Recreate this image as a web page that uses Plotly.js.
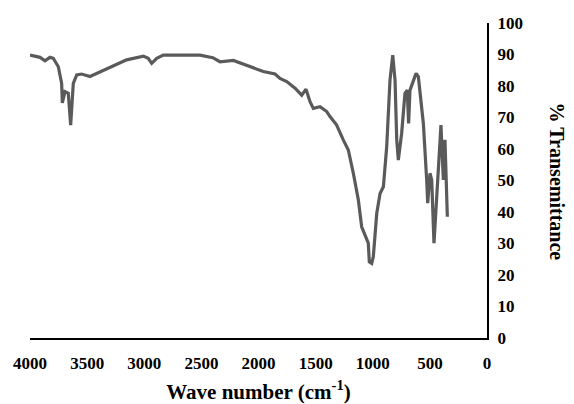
<!DOCTYPE html>
<html>
<head>
<meta charset="utf-8">
<script src="https://cdn.plot.ly/plotly-3.0.1.min.js"></script>
<style>
html,body{margin:0;padding:0;background:#fff;}
#chart{width:574px;height:404px;}
</style>
</head>
<body>
<div id="chart"></div>
<script>
// Wavenumber (cm-1) and % transmittance
const waveNumber = [4000, 3912, 3869, 3825, 3796, 3752, 3723, 3717, 3694, 3665, 3644, 3621, 3591, 3548, 3475, 3416, 3300, 3154, 3008, 2965, 2935, 2891, 2833, 2700, 2512, 2400, 2337, 2220, 2074, 1958, 1855, 1812, 1753, 1680, 1622, 1584, 1549, 1520, 1462, 1403, 1374, 1316, 1258, 1214, 1170, 1126, 1097, 1068, 1039, 1030, 1009, 995, 965, 936, 907, 878, 849, 825, 805, 790, 776, 747, 718, 698, 686, 674, 621, 601, 557, 528, 519, 499, 484, 464, 440, 403, 382, 368, 347];
const transmittance = [89.8, 89.1, 88.0, 89.1, 88.8, 86.1, 80.8, 74.6, 78.2, 77.7, 67.6, 80.8, 83.5, 83.8, 83.0, 84.0, 86.1, 88.3, 89.5, 88.8, 87.2, 88.8, 89.8, 89.9, 89.8, 89.0, 87.7, 88.1, 86.1, 84.6, 83.8, 82.4, 81.4, 79.3, 77.1, 79.0, 75.0, 72.9, 73.4, 71.9, 70.3, 67.6, 62.9, 59.7, 52.3, 43.8, 35.3, 32.7, 30.1, 24.2, 23.7, 25.8, 39.6, 45.9, 48.0, 60.7, 81.9, 89.8, 81.9, 62.9, 56.5, 65.0, 77.7, 78.7, 68.1, 78.7, 84.0, 83.0, 68.1, 50.2, 42.8, 52.3, 50.2, 30.1, 44.9, 67.6, 50.2, 62.9, 38.5];
const xTickVals = [4000, 3500, 3000, 2500, 2000, 1500, 1000, 500, 0];
const xTickText = ["4000", "3500", "3000", "2500", "2000", "1500", "1000", "500", "0"];
const yTickVals = [0, 10, 20, 30, 40, 50, 60, 70, 80, 90, 100];
const yTickText = ["0", "10", "20", "30", "40", "50", "60", "70", "80", "90", "100"];

const serif = 'Liberation Serif';
const bold = s => '<b>' + s + '</b>';

const trace = {
  x: waveNumber,
  y: transmittance,
  type: 'scatter',
  mode: 'lines',
  line: {color: '#5a5a5a', width: 3.2},
  hoverinfo: 'skip'
};

const layout = {
  width: 574,
  height: 404,
  margin: {l: 30, r: 87, t: 23, b: 66},
  paper_bgcolor: '#ffffff',
  plot_bgcolor: '#ffffff',
  showlegend: false,
  font: {family: serif, color: '#000000'},
  xaxis: {
    range: [4000, 0],
    tickmode: 'array',
    tickvals: xTickVals,
    ticktext: xTickText.map(bold),
    showgrid: false,
    zeroline: false,
    showline: true,
    linecolor: '#000000',
    linewidth: 2,
    ticks: '',
    tickfont: {family: serif, size: 17, color: '#000000'},
    ticklabelstandoff: 9,
    title: {text: '<b>Wave number (cm<sup>-1</sup>)</b>', font: {family: serif, size: 21, color: '#000000'}, standoff: 14}
  },
  yaxis: {
    range: [0, 100],
    side: 'right',
    tickmode: 'array',
    tickvals: yTickVals,
    ticktext: yTickText.map(bold),
    showgrid: false,
    zeroline: false,
    showline: true,
    linecolor: '#000000',
    linewidth: 2,
    ticks: '',
    tickfont: {family: serif, size: 17, color: '#000000'},
    ticklabelstandoff: 5
  },
  annotations: [{
    text: '<b>% Transemittance</b>',
    xref: 'paper', yref: 'paper',
    x: 1.152, y: 0.495,
    xanchor: 'center', yanchor: 'middle',
    textangle: 90,
    showarrow: false,
    font: {family: serif, size: 20, color: '#000000'}
  }]
};

Plotly.newPlot('chart', [trace], layout, {displayModeBar: false, staticPlot: true});
</script>
</body>
</html>
